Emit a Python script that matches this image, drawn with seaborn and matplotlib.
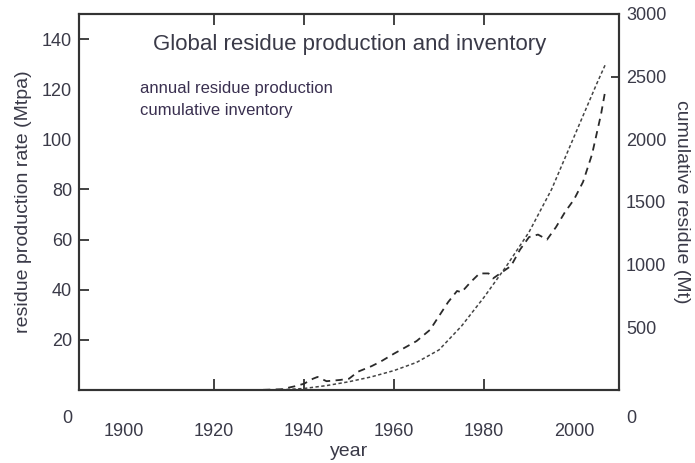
import matplotlib
matplotlib.use("Agg")
import matplotlib.pyplot as plt
import matplotlib.transforms as mtransforms
import seaborn as sns
import pandas as pd

# ---- data ----
years_annual = [1900, 1910, 1920, 1930, 1935, 1938, 1940, 1942, 1943, 1945, 1948,
                1950, 1952, 1955, 1957, 1960, 1962, 1965, 1968, 1970, 1972, 1974,
                1975, 1977, 1979, 1981, 1982, 1984, 1986, 1988, 1990, 1992, 1994,
                1996, 1998, 2000, 2002, 2004, 2006, 2007]
annual_production = [0, 0, 0, 0, 0.3, 1.5, 2.5, 4.5, 5.2, 3.5, 4,
                     4.5, 7.3, 9.5, 11.3, 14.5, 16.5, 19.5, 24, 29.5, 35, 39.5,
                     39, 43, 46.5, 46.5, 44.5, 47, 49.5, 56, 61, 62, 60,
                     65, 71, 76, 83, 94, 110, 120]

years_cumulative = [1900, 1910, 1920, 1930, 1935, 1940, 1945, 1950, 1955, 1960,
                    1965, 1970, 1975, 1980, 1985, 1990, 1995, 2000, 2005, 2007]
cumulative_inventory = [0, 0, 0, 0, 2, 12, 35, 66, 105, 155,
                        220, 320, 510, 740, 990, 1260, 1600, 2020, 2440, 2600]

x_ticks = [1900, 1920, 1940, 1960, 1980, 2000]
left_ticks = [0, 20, 40, 60, 80, 100, 120, 140]
right_ticks = [0, 500, 1000, 1500, 2000, 2500, 3000]

title = "Global residue production and inventory"
series_labels = ["annual residue production", "cumulative inventory"]

df_a = pd.DataFrame({"year": years_annual, "value": annual_production})
df_c = pd.DataFrame({"year": years_cumulative, "value": cumulative_inventory})

# ---- style ----
sns.set_theme(style="ticks")
plt.rcParams["font.family"] = ["Liberation Sans", "DejaVu Sans"]
TXT = "#3a3a48"
SP = "#333333"

fig = plt.figure(figsize=(6.95, 4.63), dpi=100)
ax = fig.add_axes([0.1137, 0.1577, 0.777, 0.8121])
ax2 = ax.twinx()

sns.lineplot(data=df_a, x="year", y="value", ax=ax, color="#2a2a2a",
             linewidth=1.3, label=series_labels[0], dashes=False)
ax.lines[0].set_dashes([4, 3])
sns.lineplot(data=df_c, x="year", y="value", ax=ax2, color="#444444",
             linewidth=1.1, label=series_labels[1], dashes=False)
ax2.lines[0].set_dashes([2.2, 1.6])
if ax2.get_legend():
    ax2.get_legend().remove()

ax.set_xlim(1890, 2010)
ax.set_ylim(0, 150)
ax2.set_ylim(0, 3000)

ax.set_xticks(x_ticks)
ax.set_yticks(left_ticks)
ax2.set_yticks(right_ticks)

for a in (ax, ax2):
    for s in a.spines.values():
        s.set_color(SP)
        s.set_linewidth(1.5)
        s.set_visible(True)

ax.tick_params(axis="x", direction="in", length=8, width=1.3, color=SP,
               top=True, labelsize=13, labelcolor=TXT, pad=24)
ax.tick_params(axis="y", direction="in", length=7, width=1.3, color=SP,
               labelsize=13, labelcolor=TXT, pad=5)
ax2.tick_params(axis="y", direction="in", length=6, width=1.3, color=SP,
                labelsize=13, labelcolor=TXT, pad=5)

# hide tick marks that are not drawn in the reference
for t, v in zip(ax.xaxis.get_major_ticks(), x_ticks):
    if v in (1900, 2000):
        t.tick1line.set_visible(False)
        t.tick2line.set_visible(False)
for t, v in zip(ax.yaxis.get_major_ticks(), left_ticks):
    if v in (0, 100, 120):
        t.tick1line.set_visible(False)
for t, v in zip(ax2.yaxis.get_major_ticks(), right_ticks):
    if v != 2500:
        t.tick2line.set_visible(False)

# zero labels sit below the axis corner
off = mtransforms.ScaledTranslation(0, -0.27, fig.dpi_scale_trans)
ax.get_yticklabels()[0].set_transform(ax.get_yticklabels()[0].get_transform() + off)
ax2.get_yticklabels()[0].set_transform(ax2.get_yticklabels()[0].get_transform() + off)

ax.set_xlabel("year", fontsize=14, color=TXT, labelpad=2)
ax.set_ylabel("residue production rate (Mtpa)", fontsize=14, color=TXT, labelpad=7)
ax2.set_ylabel("cumulative residue (Mt)", fontsize=14, color=TXT, labelpad=5,
               rotation=270, va="bottom")

ax.text(0.502, 0.92, title, transform=ax.transAxes, ha="center", va="center",
        fontsize=16, color=TXT)

leg = ax.legend([ax.lines[0], ax2.lines[0]], series_labels,
                loc="upper left", bbox_to_anchor=(0.1, 0.84), frameon=False,
                handlelength=0, handletextpad=0, fontsize=12,
                labelspacing=0.42, borderaxespad=0)
for h in leg.legend_handles:
    h.set_visible(False)
for t in leg.get_texts():
    t.set_color("#3a3050")

fig.savefig("out.png", dpi=100, facecolor="white")
